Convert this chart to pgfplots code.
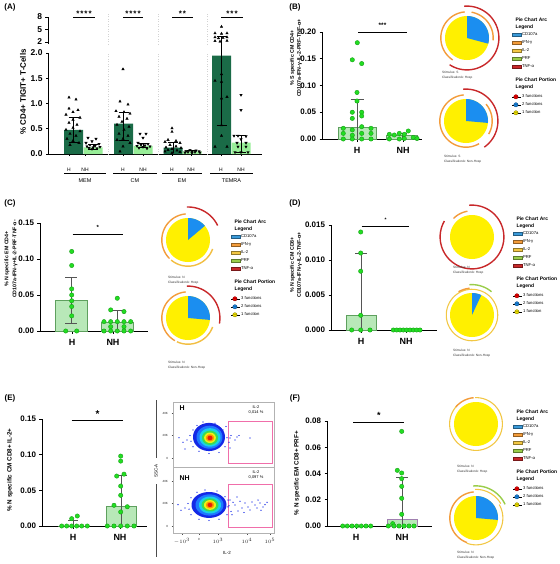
\documentclass[border=0pt]{standalone}
\usepackage{fontspec}
\setmainfont{Liberation Sans}
\usepackage{pgfplots}
\pgfplotsset{compat=1.18}
\definecolor{dkgreen}{HTML}{1A6B47}
\definecolor{ltgreen}{HTML}{98EE98}
\definecolor{ptfill}{HTML}{22DD22}
\definecolor{ptdraw}{HTML}{17A017}
\definecolor{barfill}{HTML}{B8E8B8}
\definecolor{bardraw}{HTML}{5EA05E}
\definecolor{ebgray}{HTML}{555555}
\definecolor{pieyellow}{HTML}{FFF000}
\definecolor{pieblue}{HTML}{1B8EF0}
\definecolor{arcorange}{HTML}{F39C3A}
\definecolor{arcred}{HTML}{C8282A}
\definecolor{arcyellow}{HTML}{F2C744}
\definecolor{arcgreen}{HTML}{9ACD4A}
\definecolor{arcblue}{HTML}{3A9AD9}
\definecolor{fblue}{HTML}{1428E6}
\definecolor{fmid}{HTML}{1E78FF}
\definecolor{fcyan}{HTML}{19D2E6}
\definecolor{fgreen}{HTML}{3CDC50}
\definecolor{fyellow}{HTML}{F0F014}
\definecolor{forange}{HTML}{FF9600}
\definecolor{fred}{HTML}{E61E0A}
\definecolor{gatepink}{HTML}{F06EAA}
\definecolor{fbarpurple}{HTML}{A080B0}
\pgfplotsset{
  every axis/.append style={/pgf/number format/assume math mode=true},
  panel/.style={scale only axis, axis lines=left, axis line style={-, line width=0.9pt}, clip=false,
    tick style={line width=0.8pt, black}, major tick length=2.5bp, tick align=outside,
    yticklabel style={font=\bfseries\fontsize{8}{8}\selectfont},
    xticklabel style={font=\bfseries\fontsize{9}{10}\selectfont, anchor=center, yshift=-9bp},
    scaled y ticks=false, anchor=south west},
  gdot/.style={only marks, mark=*, mark size=2.2pt, mark options={fill=ptfill, draw=ptdraw, line width=0.4pt}},
  gbar/.style={ybar, bar shift=0pt, fill=barfill, draw=bardraw, line width=0.7pt},
  eb/.style={draw=ebgray, line width=0.8pt, unbounded coords=jump},
  sig/.style={black, line width=0.9pt},
  pie/.style={hide axis, scale only axis, width=70bp, height=70bp, xmin=-1.5909, xmax=1.5909, ymin=-1.5909, ymax=1.5909, anchor=center, clip=false},
  arc/.style={line width=1.4pt, samples=60},
  flow/.style={scale only axis, width=101bp, xmin=0, xmax=101, anchor=south west,
    axis line style={gray!60, line width=0.4pt}, tick style={gray!60!black, line width=0.3pt},
    major tick length=1.5bp, tick align=outside, xtick pos=bottom, ytick pos=left,
    ytick={0,20,40}, yticklabels={0,20K,40K},
    yticklabel style={font=\fontsize{3}{3}\selectfont, text=gray!30!black},
    xticklabel style={font=\fontsize{3}{3}\selectfont, text=gray!30!black}, clip=true},
  fdot/.style={only marks, mark=*, mark size=0.35pt, fblue, mark options={draw=none}},
}
\newcommand{\pielegends}[2]{%
  \node[anchor=west, align=left, font=\bfseries\fontsize{5}{7}\selectfont] at (#1bp,-#2bp) {Pie Chart Arc\\Legend};
  \begin{axis}[hide axis, scale only axis, width=1bp, height=1bp, xmin=0, xmax=1, ymin=0, ymax=1,
    at={({#1bp},{-#2bp-8bp})}, anchor=north west,
    legend style={at={(0,1)}, anchor=north west, draw=none, fill=none, font=\fontsize{4.2}{4.5}\selectfont,
      inner sep=0pt, row sep=2.8bp, nodes={inner sep=0.6bp, text height=3bp, text depth=1bp}, legend cell align=left},
    legend image code/.code={\draw[##1] (0bp,-1.5bp) rectangle (9bp,1.5bp);}]
    \addlegendimage{fill=arcblue, draw=arcblue!60!black, line width=0.3pt}\addlegendentry{CD107a}
    \addlegendimage{fill=arcorange, draw=arcorange!60!black, line width=0.3pt}\addlegendentry{IFN-γ}
    \addlegendimage{fill=arcyellow, draw=arcyellow!60!black, line width=0.3pt}\addlegendentry{IL-2}
    \addlegendimage{fill=arcgreen, draw=arcgreen!60!black, line width=0.3pt}\addlegendentry{PRF}
    \addlegendimage{fill=arcred, draw=arcred!60!black, line width=0.3pt}\addlegendentry{TNF-α}
  \end{axis}
  \node[anchor=west, align=left, font=\bfseries\fontsize{5}{7}\selectfont] at (#1bp,{-#2bp-60bp}) {Pie Chart Portion\\Legend};
  \begin{axis}[hide axis, scale only axis, width=1bp, height=1bp, xmin=0, xmax=1, ymin=0, ymax=1,
    at={({#1bp},{-#2bp-70.5bp})}, anchor=north west,
    legend style={at={(0,1)}, anchor=north west, draw=none, fill=none, font=\fontsize{4.2}{4.5}\selectfont,
      inner sep=0pt, row sep=2.8bp, nodes={inner sep=0.6bp, text height=3bp, text depth=1bp}, legend cell align=left},
    legend image code/.code={\path (0bp,0bp) -- (9bp,0bp); \draw[##1] plot coordinates {(3.5bp,0bp)};}]
    \addlegendimage{mark=oplus*, mark size=2.2pt, mark options={fill=red, draw=red!50!black, line width=0.3pt}}\addlegendentry{3 functions}
    \addlegendimage{mark=oplus*, mark size=2.2pt, mark options={fill=pieblue, draw=pieblue!50!black, line width=0.3pt}}\addlegendentry{2 functions}
    \addlegendimage{mark=oplus*, mark size=2.2pt, mark options={fill=pieyellow, draw=pieyellow!50!black, line width=0.3pt}}\addlegendentry{1 function}
  \end{axis}}
\begin{document}
\begin{tikzpicture}
\path[use as bounding box] (0bp,0bp) rectangle (560bp,-564bp);

% ================= PANEL A =================
\begin{axis}[panel, at={(48bp,-154bp)}, width=214bp, height=101bp, xmin=48, xmax=262, ymin=0, ymax=2.0,
  ytick={0,0.5,1,1.5,2}, yticklabels={0.0,0.5,1.0,1.5,2.0},
  yticklabel style={font=\bfseries\fontsize{8.5}{9}\selectfont},
  xtick={69,85,123,143,172,191,221,241}, xticklabels={H,NH,H,NH,H,NH,H,NH},
  xticklabel style={font=\fontsize{5}{6}\selectfont, yshift=-5bp}, major tick length=2bp]
\addplot[gray!35, dotted, line width=0.5pt, unbounded coords=jump] coordinates {(108,0)(108,2.0)(108,nan)(158,0)(158,2.0)(158,nan)(207,0)(207,2.0)};
\addplot[ybar, bar shift=0pt, bar width=19, fill=dkgreen, draw=none] coordinates {(73.5,0.48)(123.5,0.60)(173,0.125)(221.5,1.95)};
\addplot[ybar, bar shift=0pt, bar width=19, fill=ltgreen, draw=none] coordinates {(93,0.13)(143,0.16)(192,0.05)(241,0.225)};
\addplot[black, line width=0.6pt, unbounded coords=jump] coordinates {
 (73.5,0.23)(73.5,0.72)(73.5,nan)(68.5,0.72)(78.5,0.72)(78.5,nan)(68.5,0.23)(78.5,0.23)(78.5,nan)
 (93,0.10)(93,0.20)(93,nan)(88,0.20)(98,0.20)(98,nan)(88,0.10)(98,0.10)(98,nan)
 (123.5,0.28)(123.5,0.83)(123.5,nan)(118.5,0.83)(128.5,0.83)(128.5,nan)(118.5,0.28)(128.5,0.28)(128.5,nan)
 (143,0.13)(143,0.22)(143,nan)(138,0.22)(148,0.22)(148,nan)(138,0.13)(148,0.13)(148,nan)
 (173,0.02)(173,0.24)(173,nan)(168,0.24)(178,0.24)(178,nan)
 (192,0.02)(192,0.07)(192,nan)(187,0.07)(197,0.07)(197,nan)
 (221.5,0.57)(221.5,2.18)(221.5,nan)(216.5,0.57)(226.5,0.57)(226.5,nan)
 (241,0.04)(241,0.37)(241,nan)(236,0.37)(246,0.37)(246,nan)(236,0.04)(246,0.04)};
\addplot[only marks, mark=triangle*, mark size=1.4pt, black] coordinates {
 (69,1.12)(76,1.08)(69,0.90)(78,0.87)(73,0.83)(66,0.78)(80,0.72)(73,0.68)(69,0.62)(77,0.58)(73,0.52)(66,0.48)(80,0.45)(70,0.40)(76,0.36)(67,0.30)(73,0.26)(79,0.22)(70,0.18)
 (123,1.68)(120,1.04)(128,0.98)(116,0.85)(124,0.83)(130,0.80)(119,0.74)(127,0.70)(122,0.64)(117,0.58)(129,0.54)(124,0.48)(119,0.40)(128,0.36)(123,0.30)(117,0.28)(130,0.22)(123,0.15)(120,0.05)
 (172,0.51)(172,0.44)(168,0.28)(176,0.26)(165,0.24)(180,0.22)(170,0.18)(176,0.15)(166,0.13)(181,0.12)(172,0.10)(168,0.08)(177,0.07)(165,0.05)(180,0.04)(172,0.02)
 (221.5,1.58)(215,1.45)(221.5,1.43)(221.5,1.10)(227,1.13)(221.5,0.57)(221.5,0.36)(215,0.145)(227,0.145)};
\addplot[only marks, mark=triangle*, mark size=1.4pt, black, mark options={rotate=180}] coordinates {
 (88,0.32)(96,0.30)(92,0.25)(86,0.22)(99,0.20)(90,0.18)(95,0.16)(87,0.15)(100,0.14)(93,0.13)(89,0.12)(97,0.11)(92,0.10)
 (140,0.40)(146,0.40)(143,0.32)(138,0.22)(148,0.20)(141,0.18)(145,0.17)(137,0.16)(150,0.15)(143,0.14)(139,0.12)(147,0.11)
 (190,0.08)(196,0.07)(186,0.06)(199,0.055)(192,0.05)(188,0.04)(195,0.04)(185,0.03)(200,0.03)(192,0.02)
 (241,1.17)(241,0.87)(234,0.36)(238,0.36)(246,0.35)(241,0.29)(237,0.22)(246,0.22)(238,0.145)(246,0.145)(235,0.035)(241,0.035)(248,0.035)};
\addplot[black, line width=0.7pt, unbounded coords=jump] coordinates {(64,-0.376)(106,-0.376)(106,nan)(113,-0.376)(157,-0.376)(157,nan)(162,-0.376)(202,-0.376)(202,nan)(210,-0.376)(253,-0.376)};
\node[font=\fontsize{5.5}{6}\selectfont] at (axis cs:85,-0.52) {MEM};
\node[font=\fontsize{5.5}{6}\selectfont] at (axis cs:135,-0.52) {CM};
\node[font=\fontsize{5.5}{6}\selectfont] at (axis cs:182,-0.52) {EM};
\node[font=\fontsize{5.5}{6}\selectfont] at (axis cs:231.5,-0.52) {TEMRA};
\end{axis}
\begin{axis}[at={(48bp,-44.08bp)}, anchor=south west, scale only axis, width=214bp, height=27.08bp,
  xmin=48, xmax=262, ymin=1.5, ymax=8, axis x line=none, axis y line=left, axis line style={-, line width=0.9pt},
  tick style={line width=0.8pt, black}, major tick length=2.5bp, tick align=outside, ytick={2,5,8},
  yticklabel style={font=\bfseries\fontsize{8.5}{9}\selectfont}, clip=false]
\addplot[gray!35, dotted, line width=0.5pt, unbounded coords=jump] coordinates {(108,1.5)(108,8.9)(108,nan)(158,1.5)(158,8.9)(158,nan)(207,1.5)(207,8.9)};
\addplot[black, line width=0.6pt, unbounded coords=jump] coordinates {(221.5,1.5)(221.5,3.27)(221.5,nan)(216.5,3.27)(226.5,3.27)};
\addplot[only marks, mark=triangle*, mark size=1.4pt, black] coordinates {(221.5,5.67)(215,4.09)(221.5,4.0)(227,4.09)(215,3.13)(218.5,2.9)(223,3.0)(227,3.13)(215,2.24)(220,2.1)(227,2.3)};
\addplot[sig, unbounded coords=jump] coordinates {(73,8)(95,8)(95,nan)(123,8)(143,8)(143,nan)(172,8)(193,8)(193,nan)(221,8)(243,8)};
\node[font=\bfseries\fontsize{8}{8}\selectfont] at (axis cs:84,8.75) {*\hspace{1bp}*\hspace{1bp}*\hspace{1bp}*};
\node[font=\bfseries\fontsize{8}{8}\selectfont] at (axis cs:133,8.75) {*\hspace{1bp}*\hspace{1bp}*\hspace{1bp}*};
\node[font=\bfseries\fontsize{8}{8}\selectfont] at (axis cs:182.5,8.75) {*\hspace{1bp}*};
\node[font=\bfseries\fontsize{8}{8}\selectfont] at (axis cs:232,8.75) {*\hspace{1bp}*\hspace{1bp}*};
\end{axis}

% ================= PANEL B =================
\begin{axis}[panel, at={(322bp,-139bp)}, width=100bp, height=107bp, xmin=0, xmax=100, ymin=0, ymax=0.2,
  ytick={0,0.05,0.10,0.15,0.20}, yticklabels={0.00,0.05,0.10,0.15,0.20}, xtick={35,81}, xticklabels={H,NH}]
\addplot[gbar, bar width=38] coordinates {(35,0.0217)};
\addplot[gbar, bar width=31] coordinates {(80,0.006)};
\addplot[eb] coordinates {(35,0)(35,0.0745)(35,nan)(28.5,0.0745)(41.5,0.0745)(41.5,nan)(80,0)(80,0.011)(80,nan)(75,0.011)(85,0.011)};
\addplot[gdot] coordinates {(35.3,0.180)(30.3,0.148)(39.7,0.141)(35,0.087)(35,0.071)(30.3,0.050)(39.7,0.050)(30.3,0.0385)(39.7,0.043)
 (21.3,0.020)(30.3,0.017)(39.7,0.023)(49,0.020)(21.3,0.0105)(30.3,0.007)(39.7,0.0105)(49,0.0105)(21.3,0)(30.3,0)(39.7,0)(49,0)};
\addplot[gdot] coordinates {(67.3,0.0087)(67.3,0)(72.3,0.0075)(77.3,0.0105)(77.3,0)(82.3,0.0087)(82.3,0.001)(86.3,0.015)(91.3,0.003)(95,0.001)};
\addplot[sig] coordinates {(36.3,0.2)(84.7,0.2)};
\node[font=\bfseries\fontsize{6.5}{7}\selectfont] at (axis cs:60.5,0.2135) {***};
\end{axis}
\begin{axis}[pie, at={(467bp,-38bp)}]
\addplot[fill=pieyellow, draw=none, domain=0:360, samples=73] ({cos(x)},{sin(x)}) -- cycle;
\addplot[fill=pieblue, draw=none, domain=-15:90, samples=40] ({cos(x)},{sin(x)}) -- (axis cs:0,0) -- cycle;
\addplot[arc, arcorange, domain=95:237] ({1.19*cos(x)},{1.19*sin(x)});
\addplot[arc, arcorange, domain=-5:80] ({1.19*cos(x)},{1.19*sin(x)});
\addplot[arc, arcred, domain=-123:95] ({1.45*cos(x)},{1.45*sin(x)});
\end{axis}
\begin{axis}[pie, at={(466bp,-121bp)}]
\addplot[fill=pieyellow, draw=none, domain=0:360, samples=73] ({cos(x)},{sin(x)}) -- cycle;
\addplot[fill=pieblue, draw=none, domain=-5:90, samples=40] ({cos(x)},{sin(x)}) -- (axis cs:0,0) -- cycle;
\addplot[arc, arcorange, domain=95:300] ({1.19*cos(x)},{1.19*sin(x)});
\addplot[arc, arcorange, domain=-30:40] ({1.19*cos(x)},{1.19*sin(x)});
\addplot[arc, arcred, domain=-55:95] ({1.45*cos(x)},{1.45*sin(x)});
\end{axis}
\pielegends{512}{23.5}

% ================= PANEL C =================
\begin{axis}[panel, at={(40bp,-331bp)}, width=108bp, height=108bp, xmin=0, xmax=108, ymin=0, ymax=0.15,
  ytick={0,0.05,0.10,0.15}, yticklabels={0.00,0.05,0.10,0.15}, xtick={32,73}, xticklabels={H,NH}]
\addplot[gbar, bar width=32] coordinates {(31,0.043)};
\addplot[gbar, bar width=32] coordinates {(77,0.0116)};
\addplot[eb] coordinates {(31,0.0107)(31,0.0748)(31,nan)(25,0.0748)(37,0.0748)(37,nan)(25,0.0107)(37,0.0107)(37,nan)(77,0)(77,0.0283)(77,nan)(71,0.0283)(83,0.0283)};
\addplot[gdot] coordinates {(31.7,0.1105)(31.7,0.091)(31.7,0.0585)(31.7,0.050)(31.7,0.042)(31.7,0.034)(31.7,0.021)(25.7,0)(36.7,0)};
\addplot[gdot] coordinates {(77.3,0.0455)(70.7,0.0293)(84,0.027)(64,0.013)(70.7,0.013)(77.3,0.013)(84,0.013)(90.7,0.013)(70.7,0.006)(84,0.006)(64,0)(70.7,0)(77.3,0)(84,0)(90.7,0)};
\addplot[sig] coordinates {(32.7,0.1347)(82.7,0.1347)};
\node[font=\bfseries\fontsize{6}{6}\selectfont] at (axis cs:57.7,0.1435) {*};
\end{axis}
\begin{axis}[pie, at={(188bp,-240bp)}]
\addplot[fill=pieyellow, draw=none, domain=0:360, samples=73] ({cos(x)},{sin(x)}) -- cycle;
\addplot[fill=pieblue, draw=none, domain=40:90, samples=30] ({cos(x)},{sin(x)}) -- (axis cs:0,0) -- cycle;
\addplot[arc, arcorange, domain=95:225] ({1.19*cos(x)},{1.19*sin(x)});
\addplot[arc, arcyellow!80!arcorange, domain=230:340] ({1.19*cos(x)},{1.19*sin(x)});
\addplot[arc, arcred, domain=26:92] ({1.5*cos(x)},{1.5*sin(x)});
\end{axis}
\begin{axis}[pie, at={(188bp,-318bp)}]
\addplot[fill=pieyellow, draw=none, domain=0:360, samples=73] ({cos(x)},{sin(x)}) -- cycle;
\addplot[fill=pieblue, draw=none, domain=-5:90, samples=40] ({cos(x)},{sin(x)}) -- (axis cs:0,0) -- cycle;
\addplot[arc, arcorange, domain=95:240] ({1.19*cos(x)},{1.19*sin(x)});
\addplot[arc, arcyellow!80!arcorange, domain=245:340] ({1.19*cos(x)},{1.19*sin(x)});
\addplot[arc, arcred, domain=-10:92] ({1.45*cos(x)},{1.45*sin(x)});
\end{axis}
\pielegends{231}{225.5}

% ================= PANEL D =================
\begin{axis}[panel, at={(331bp,-330bp)}, width=106bp, height=105bp, xmin=0, xmax=106, ymin=0, ymax=0.015,
  ytick={0,0.005,0.010,0.015}, yticklabels={0.000,0.005,0.010,0.015}, xtick={30,75}, xticklabels={H,NH}]
\addplot[gbar, bar width=30] coordinates {(30,0.0021)};
\addplot[gbar, bar width=30] coordinates {(75,0)};
\addplot[eb] coordinates {(30,0)(30,0.011)(30,nan)(24,0.011)(36,0.011)};
\addplot[gdot] coordinates {(29.7,0.014)(29.7,0.011)(29.7,0.0084)(29.7,0.0021)(20.7,0)(29.7,0)(39,0)};
\addplot[gdot] coordinates {(62.3,0)(65.7,0)(69,0)(72.3,0)(75.7,0)(79,0)(82.3,0)(85.7,0)(89,0)};
\addplot[sig] coordinates {(30.7,0.01486)(78.3,0.01486)};
\node[font=\bfseries\fontsize{5}{5}\selectfont] at (axis cs:54.5,0.0158) {*};
\end{axis}
\begin{axis}[pie, at={(472bp,-237bp)}]
\addplot[fill=pieyellow, draw=none, domain=0:360, samples=73] ({cos(x)},{sin(x)}) -- cycle;
\addplot[arc, arcorange, domain=100:135] ({1.19*cos(x)},{1.19*sin(x)});
\addplot[arc, arcred, domain=-210:95] ({1.45*cos(x)},{1.45*sin(x)});
\end{axis}
\begin{axis}[pie, at={(472bp,-315bp)}]
\addplot[fill=pieyellow, draw=none, domain=0:360, samples=73] ({cos(x)},{sin(x)}) -- cycle;
\addplot[fill=pieblue, draw=none, domain=65:90, samples=20] ({cos(x)},{sin(x)}) -- (axis cs:0,0) -- cycle;
\addplot[arc, arcyellow, line width=1.1pt, domain=0:360] ({1.17*cos(x)},{1.17*sin(x)});
\addplot[arc, arcorange, domain=95:120] ({1.22*cos(x)},{1.22*sin(x)});
\addplot[arc, arcgreen, domain=50:95] ({1.38*cos(x)},{1.38*sin(x)});
\end{axis}
\pielegends{513}{222.5}

% ================= PANEL E =================
\begin{axis}[panel, at={(42bp,-526bp)}, width=105bp, height=107bp, xmin=0, xmax=105, ymin=0, ymax=0.15,
  ytick={0,0.05,0.10,0.15}, yticklabels={0.00,0.05,0.10,0.15}, xtick={31,78}, xticklabels={H,NH}]
\addplot[gbar, bar width=30] coordinates {(31,0)};
\addplot[gbar, bar width=30] coordinates {(79,0.028)};
\addplot[eb] coordinates {(31,0)(31,0.008)(31,nan)(26,0.008)(36,0.008)(36,nan)(79,0)(79,0.0703)(79,nan)(73,0.0703)(85,0.0703)};
\addplot[gdot] coordinates {(35.3,0.014)(29.7,0.0103)(19.7,0)(24.7,0)(29.7,0)(34.7,0)(39.7,0)(45.3,0)};
\addplot[gdot] coordinates {(78.7,0.098)(78.7,0.091)(82,0.0727)(74.7,0.070)(78.7,0.056)(78.7,0.043)(72,0.029)(85.3,0.027)(78.7,0.0197)(65.3,0)(72,0)(78.7,0)(85.3,0)(92,0)};
\addplot[sig] coordinates {(29.7,0.1486)(81.3,0.1486)};
\node[font=\bfseries\fontsize{10}{10}\selectfont] at (axis cs:55.5,0.1575) {*};
\end{axis}

% flow cytometry
\begin{axis}[flow, at={(173bp,-467bp)}, height=65bp, ymin=-8, ymax=49.8, xtick=\empty]
\addplot[fill=fblue, draw=none, domain=0:360, samples=60] ({36+16*cos(x)},{18.7+12.5*sin(x)}) -- cycle;
\addplot[fill=fmid, draw=none, domain=0:360, samples=60] ({36.5+13*cos(x)},{18.5+10.2*sin(x)}) -- cycle;
\addplot[fill=fcyan, draw=none, domain=0:360, samples=60] ({37+10.5*cos(x)},{18.3+8.2*sin(x)}) -- cycle;
\addplot[fill=fgreen, draw=none, domain=0:360, samples=60] ({37+8*cos(x)},{18+6.3*sin(x)}) -- cycle;
\addplot[fill=fyellow, draw=none, domain=0:360, samples=60] ({37+5.8*cos(x)},{18+4.6*sin(x)}) -- cycle;
\addplot[fill=forange, draw=none, domain=0:360, samples=60] ({37+4*cos(x)},{17.9+3.2*sin(x)}) -- cycle;
\addplot[fill=fred, draw=none, domain=0:360, samples=60] ({37+2.4*cos(x)},{17.8+2*sin(x)}) -- cycle;
\addplot[fdot] coordinates {(18,15)(20,25)(24,29)(30,32)(42,31)(50,25)(54,18)(52,10)(46,5)(36,4)(26,6)(20,10)(17,20)(53,28)(14,16)(56,14)(10,14)(6,18)(12,8)(58,20)
 (57,17.8)(62,16)(64,18.7)(77,17.8)(57,8.9)(66,20)};
\addplot[gatepink, line width=0.8pt] coordinates {(55,-4.4)(99,-4.4)(99,32.9)(55,32.9)(55,-4.4)};
\end{axis}
\begin{axis}[flow, at={(173bp,-533bp)}, height=66bp, ymin=-6.2, ymax=52.4,
  xtick={9,26,45,74,97}, xticklabels={$-10^3$,0,$10^3$,$10^4$,$10^5$}]
\addplot[fill=fblue, draw=none, domain=0:360, samples=60] ({36+17.5*cos(x)},{18.7+11.5*sin(x)}) -- cycle;
\addplot[fill=fmid, draw=none, domain=0:360, samples=60] ({36.5+14*cos(x)},{18.7+9.4*sin(x)}) -- cycle;
\addplot[fill=fcyan, draw=none, domain=0:360, samples=60] ({37+11*cos(x)},{18.7+7.5*sin(x)}) -- cycle;
\addplot[fill=fgreen, draw=none, domain=0:360, samples=60] ({37+8.4*cos(x)},{18.7+5.8*sin(x)}) -- cycle;
\addplot[fill=fyellow, draw=none, domain=0:360, samples=60] ({37+6*cos(x)},{18.7+4.3*sin(x)}) -- cycle;
\addplot[fill=forange, draw=none, domain=0:360, samples=60] ({37+4*cos(x)},{18.7+3*sin(x)}) -- cycle;
\addplot[fill=fred, draw=none, domain=0:360, samples=60] ({37+2.4*cos(x)},{18.7+1.8*sin(x)}) -- cycle;
\addplot[fdot] coordinates {(16,15)(18,25)(24,30)(32,32)(44,31)(52,26)(56,18)(54,10)(46,6)(36,5)(26,6)(18,10)(15,20)(55,23)(12,16)(58,13)(8,14)(5,19)
 (57,23.1)(62,18.7)(64,25.8)(69,16)(72,20.4)(75,16.9)(79,21.3)(82,18.7)(84,16)(87,20.4)(90,16.9)(77,14.2)(65,13.3)(60,21)(67,22)(85,23)(92,19)(55,17)(71,12)(88,14)(59,10)(94,21)};
\addplot[gatepink, line width=0.8pt] coordinates {(55,-0.9)(99,-0.9)(99,37.3)(55,37.3)(55,-0.9)};
\end{axis}

% ================= PANEL F =================
\begin{axis}[panel, at={(327bp,-526bp)}, width=105bp, height=105bp, xmin=0, xmax=105, ymin=0, ymax=0.08,
  ytick={0,0.02,0.04,0.06,0.08}, yticklabels={0.00,0.02,0.04,0.06,0.08}, xtick={29,75}, xticklabels={H,NH}]
\addplot[gbar, bar width=30, draw=fbarpurple] coordinates {(75,0.0048)};
\addplot[eb] coordinates {(75,0)(75,0.0368)(75,nan)(69,0.0368)(81,0.0368)};
\addplot[gdot] coordinates {(15.7,0)(20.3,0)(25,0)(29.7,0)(34.3,0)(39,0)(43.7,0)};
\addplot[gdot] coordinates {(74.7,0.0721)(70.3,0.0424)(74.7,0.0404)(74.7,0.0361)(74.7,0.0302)(74.7,0.0211)(74.7,0.0089)(65.7,0.0018)(61.3,0)(67,0)(72,0)(77,0)(82,0)(87,0)};
\addplot[sig] coordinates {(26.3,0.0792)(77.3,0.0792)};
\node[font=\bfseries\fontsize{9}{9}\selectfont] at (axis cs:51.8,0.0845) {*};
\end{axis}
\begin{axis}[pie, at={(476bp,-424bp)}]
\addplot[fill=pieyellow, draw=none, domain=0:360, samples=73] ({cos(x)},{sin(x)}) -- cycle;
\addplot[arc, arcyellow, line width=1.1pt, domain=-225:92] ({1.2*cos(x)},{1.2*sin(x)});
\addplot[arc, arcorange, domain=95:140] ({1.2*cos(x)},{1.2*sin(x)});
\end{axis}
\begin{axis}[pie, at={(476bp,-518bp)}]
\addplot[fill=pieyellow, draw=none, domain=0:360, samples=73] ({cos(x)},{sin(x)}) -- cycle;
\addplot[fill=pieblue, draw=none, domain=-5:90, samples=40] ({cos(x)},{sin(x)}) -- (axis cs:0,0) -- cycle;
\addplot[arc, arcorange, domain=95:250] ({1.19*cos(x)},{1.19*sin(x)});
\addplot[arc, arcyellow, line width=1.1pt, domain=-110:30] ({1.22*cos(x)},{1.22*sin(x)});
\addplot[arc, arcyellow, line width=1.1pt, domain=30:92] ({1.3*cos(x)},{1.3*sin(x)});
\addplot[arc, arcgreen, domain=25:95] ({1.46*cos(x)},{1.46*sin(x)});
\end{axis}
\pielegends{513}{415.5}

% ================= TEXT =================
\begin{scope}[x=1bp, y=-1bp]
\node[font=\bfseries\fontsize{8}{9}\selectfont] at (10,7) {(A)};
\node[font=\bfseries\fontsize{8}{9}\selectfont] at (295,7) {(B)};
\node[font=\bfseries\fontsize{8}{9}\selectfont] at (10,203) {(C)};
\node[font=\bfseries\fontsize{8}{9}\selectfont] at (295,203) {(D)};
\node[font=\bfseries\fontsize{8}{9}\selectfont] at (10,398) {(E)};
\node[font=\bfseries\fontsize{8}{9}\selectfont] at (295,398) {(F)};
\node[rotate=90, font=\bfseries\fontsize{8}{9}\selectfont] at (23,92) {\% CD4+ TIGIT+ T-Cells};
\node[rotate=90, align=center, font=\bfseries\fontsize{5.3}{7}\selectfont] at (296,58) {\% S specific CM CD4+\\CD107a-IFN-γ-IL-2-PRF-TNF-α+};
\node[rotate=90, align=center, font=\bfseries\fontsize{5.3}{8}\selectfont] at (11,259) {\% N specific EM CD4+\\CD107a-IFN-γ+IL-2-PRF-TNF-α-};
\node[rotate=90, align=center, font=\bfseries\fontsize{5.3}{7}\selectfont] at (296,265) {\% N specific CM CD8+\\CD107a-IFN-γ-IL-2-TNF-α+};
\node[rotate=90, font=\bfseries\fontsize{6.3}{7}\selectfont] at (10,470) {\% N specific CM CD8+ IL-2+};
\node[rotate=90, font=\bfseries\fontsize{6.3}{7}\selectfont] at (297,473) {\% N specific EM CD8+ PRF+};
% stimulus captions
\tikzset{captxt/.style={anchor=north west, align=left, font=\fontsize{3.2}{4.6}\selectfont, text=gray!40!black, inner sep=0pt}}
\node[captxt] at (442,71) {Stimulus: S\\ClassificationA: Hosp};
\node[captxt] at (444,155) {Stimulus: S\\ClassificationA: Non-Hosp};
\node[captxt] at (168,276) {Stimulus: N\\ClassificationA: Hosp};
\node[captxt] at (168,361) {Stimulus: N\\ClassificationA: Non-Hosp};
\node[captxt] at (453,266) {Stimulus: N\\ClassificationA: Hosp};
\node[captxt] at (453,349) {Stimulus: N\\ClassificationA: Non-Hosp};
\node[captxt] at (457,465) {Stimulus: N\\ClassificationA: Hosp};
\node[captxt] at (457,551) {Stimulus: N\\ClassificationA: Non-Hosp};
% flow texts
\node[font=\bfseries\fontsize{7}{8}\selectfont, anchor=west] at (176,408) {H};
\node[font=\bfseries\fontsize{7}{8}\selectfont, anchor=west] at (176,478) {NH};
\node[font=\fontsize{4}{5}\selectfont, align=center] at (256,410) {IL-2\\0,014 \%};
\node[font=\fontsize{4}{5}\selectfont, align=center] at (256,475) {IL-2\\0,097 \%};
\draw[gray!60!black, line width=0.5pt] (156,400) -- (156,458);
\draw[gray!60!black, line width=0.5pt] (156,484) -- (156,557);
\node[rotate=90, font=\fontsize{4.5}{5}\selectfont] at (156,471) {SSC-A};
\node[font=\fontsize{4.5}{5}\selectfont] at (227,553) {IL-2};
\end{scope}
\end{tikzpicture}
\end{document}
